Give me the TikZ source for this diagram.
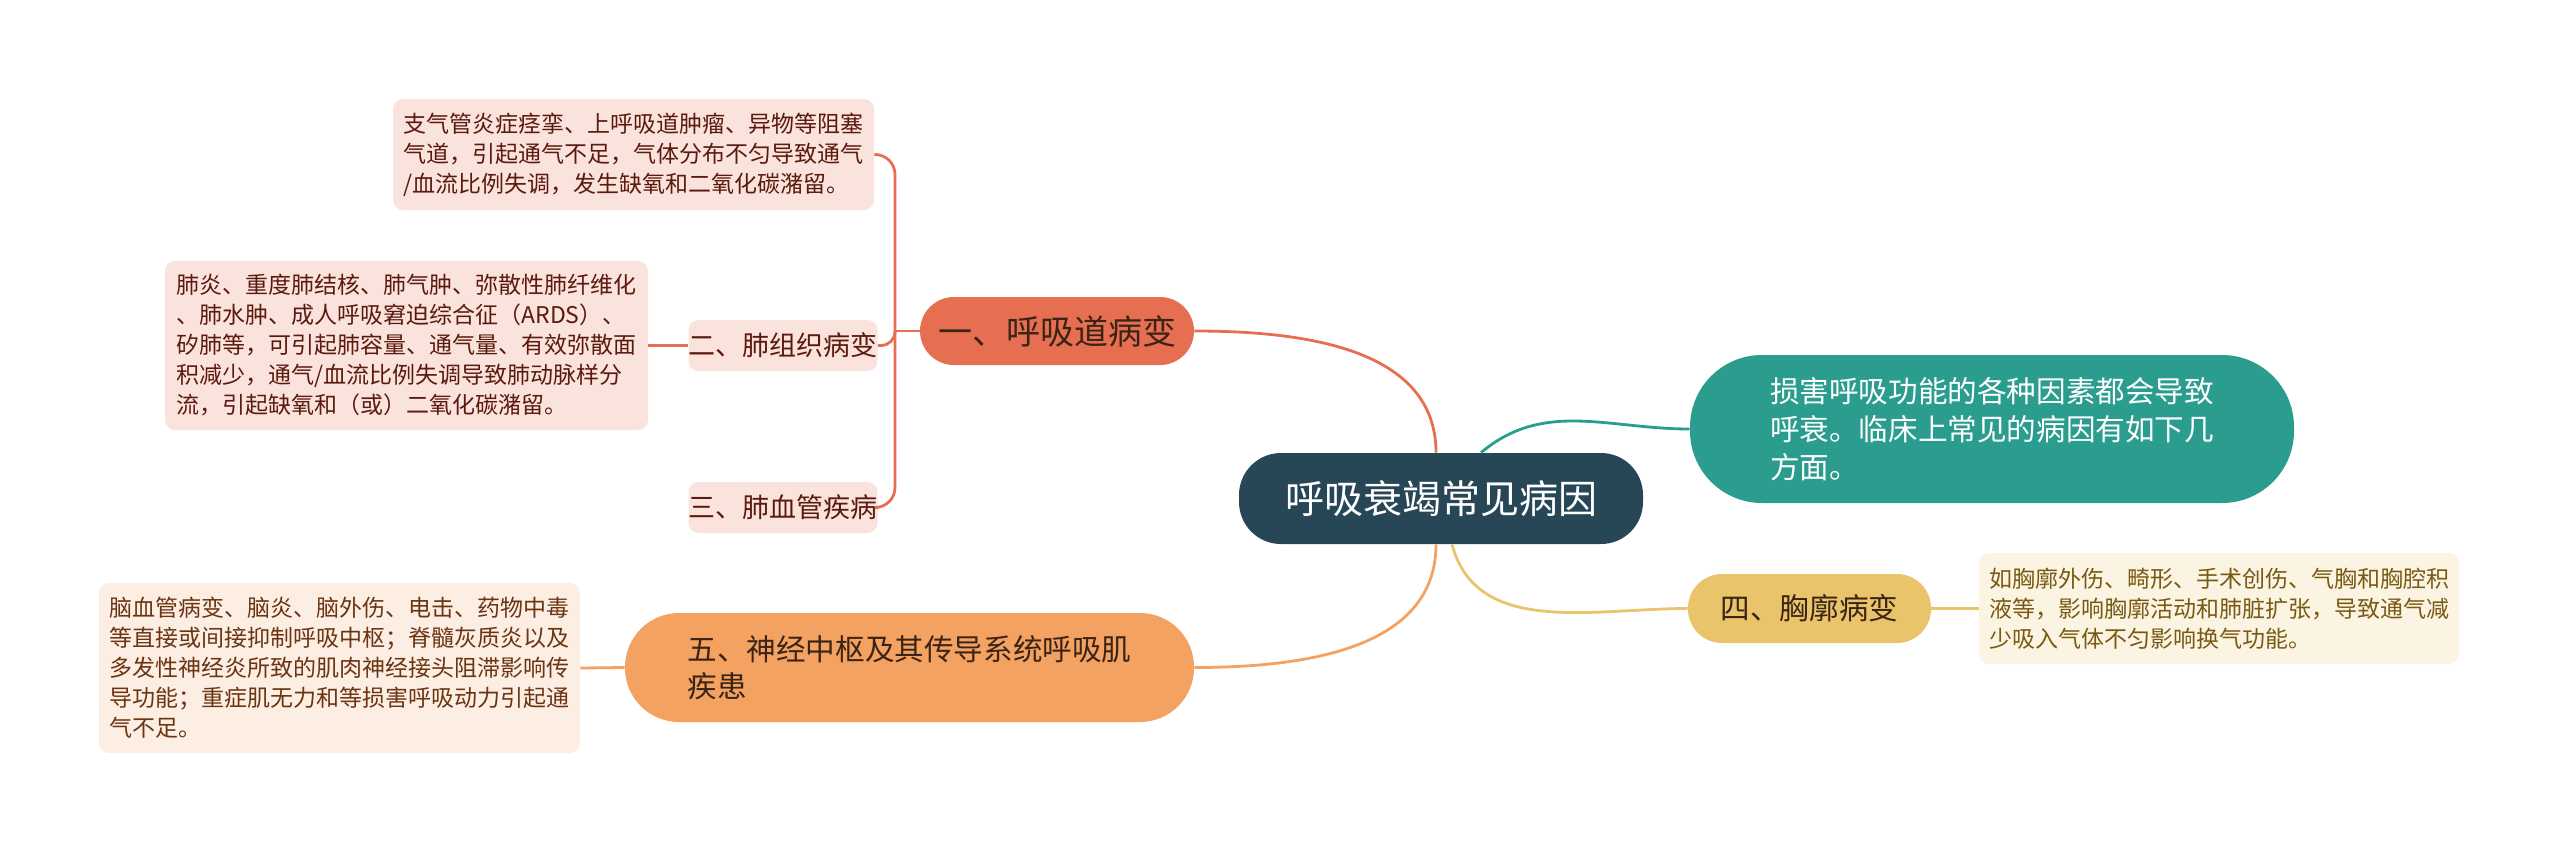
\documentclass[tikz,border=0pt]{standalone}
\usepackage{fontspec}
\setmainfont{Noto Sans CJK SC}
\usetikzlibrary{positioning, calc}
\definecolor{rootblue}{HTML}{284756}
\definecolor{coral}{HTML}{E76F51}
\definecolor{mmteal}{HTML}{2A9D8F}
\definecolor{sand}{HTML}{E9C46A}
\definecolor{peach}{HTML}{F4A261}
\definecolor{pinkbg}{HTML}{FAE3DD}
\definecolor{creambg}{HTML}{FBF4E2}
\definecolor{peachbg}{HTML}{FDEEE4}
\definecolor{dkmaroon}{HTML}{5C1A0E}
\definecolor{dkbrown}{HTML}{3B2416}
\definecolor{olivebrown}{HTML}{7A5A12}
\definecolor{rustbrown}{HTML}{6B3512}

\begin{document}
\begin{tikzpicture}[
  x=0.5pt, y=-0.5pt,
  pill/.style={
    fill=#1, align=left, inner sep=0pt
  },
  leaf/.style={
    fill=#1, rounded corners=5pt, align=left, inner xsep=5pt, inner ysep=0pt,
    font=\fontsize{11.5}{15}\selectfont
  },
  tag/.style={
    fill=pinkbg, rounded corners=5pt, minimum width=91pt, minimum height=25.5pt,
    text=dkmaroon, inner sep=0pt, font=\fontsize{13.5}{16}\selectfont
  },
  link/.style={draw=#1, line width=1.4pt},
]

% Canvas
\useasboundingbox (0,0) rectangle (2560,852);

% =============================================
% Centre
% =============================================
\node[pill=rootblue, rounded corners=21pt, minimum width=202pt, minimum height=45.5pt,
      text=white, font=\fontsize{19.5}{22}\selectfont]
  (root) at (1441,498.5) {呼吸衰竭常见病因};

% =============================================
% Left top: 一
% =============================================
\node[pill=coral, rounded corners=17pt, minimum width=137pt, minimum height=34pt,
      text=dkbrown, font=\fontsize{17}{20}\selectfont]
  (airway) at (1057,331) {一、呼吸道病变};

\node[leaf=pinkbg, text=dkmaroon, minimum width=240.5pt, minimum height=55.5pt]
  (airway-note) at (633.5,154.5)
  {支气管炎症痉挛、上呼吸道肿瘤、异物等阻塞\\
   气道，引起通气不足，气体分布不匀导致通气\\
   /血流比例失调，发生缺氧和二氧化碳潴留。};

\node[tag] (lung) at (783,345.5) {二、肺组织病变};
\node[tag] (vessel) at (783,507.5) {三、肺血管疾病};

\node[leaf=pinkbg, text=dkmaroon, minimum width=241.5pt, minimum height=84.5pt]
  (lung-note) at (406.5,345.5)
  {肺炎、重度肺结核、肺气肿、弥散性肺纤维化\\
   、肺水肿、成人呼吸窘迫综合征（ARDS）、\\
   矽肺等，可引起肺容量、通气量、有效弥散面\\
   积减少，通气/血流比例失调导致肺动脉样分\\
   流，引起缺氧和（或）二氧化碳潴留。};

% =============================================
% Right: intro and 四
% =============================================
\node[pill=mmteal, rounded corners=36pt, minimum width=302pt, minimum height=74pt,
      text=white, font=\fontsize{14.8}{19}\selectfont]
  (intro) at (1992,429)
  {损害呼吸功能的各种因素都会导致\\
   呼衰。临床上常见的病因有如下几\\
   方面。};

\node[pill=sand, rounded corners=17pt, minimum width=121.5pt, minimum height=34.5pt,
      text=dkbrown, font=\fontsize{14.8}{19}\selectfont]
  (chest) at (1809.5,608.5) {四、胸廓病变};

\node[leaf=creambg, text=olivebrown, minimum width=240pt, minimum height=55.5pt]
  (chest-note) at (2219,608.5)
  {如胸廓外伤、畸形、手术创伤、气胸和胸腔积\\
   液等，影响胸廓活动和肺脏扩张，导致通气减\\
   少吸入气体不匀影响换气功能。};

% =============================================
% Left bottom: 五
% =============================================
\node[pill=peach, rounded corners=27pt, minimum width=284.5pt, minimum height=54.5pt,
      text=dkbrown, font=\fontsize{14.8}{18.5}\selectfont]
  (nerve) at (909.5,667.5)
  {五、神经中枢及其传导系统呼吸肌\\
   疾患};

\node[leaf=peachbg, text=rustbrown, minimum width=240.5pt, minimum height=85pt]
  (nerve-note) at (339.5,668)
  {脑血管病变、脑炎、脑外伤、电击、药物中毒\\
   等直接或间接抑制呼吸中枢；脊髓灰质炎以及\\
   多发性神经炎所致的肌肉神经接头阻滞影响传\\
   导功能；重症肌无力和等损害呼吸动力引起通\\
   气不足。};

% =============================================
% Connectors
% =============================================
\draw[link=coral] ([xshift=-2.5pt]root.north) to[out=90, in=0] (airway.east);
\draw[link=mmteal] ([xshift=20pt]root.north) to[out=40, in=180] (intro.west);
\draw[link=sand] ([xshift=5.5pt]root.south) to[out=-75, in=180] (chest.west);
\draw[link=peach] ([xshift=-2.5pt]root.south) to[out=-90, in=0] (nerve.east);

% 一 fork
\coordinate (airway-fork) at (895,331);
\draw[link=coral] (airway.west) -- (airway-fork);
\draw[link=coral, rounded corners=10pt] (airway-fork) |- (airway-note.east);
\draw[link=coral, rounded corners=7pt] (airway-fork) |- (lung.east);
\draw[link=coral, rounded corners=10pt] (airway-fork) |- (vessel.east);

% notes
\draw[link=coral] (lung-note.east) -- (lung.west);
\draw[link=sand] (chest.east) -- (chest-note.west);
\draw[link=peach] (nerve-note.east) -- (nerve.west);

\end{tikzpicture}
\end{document}
